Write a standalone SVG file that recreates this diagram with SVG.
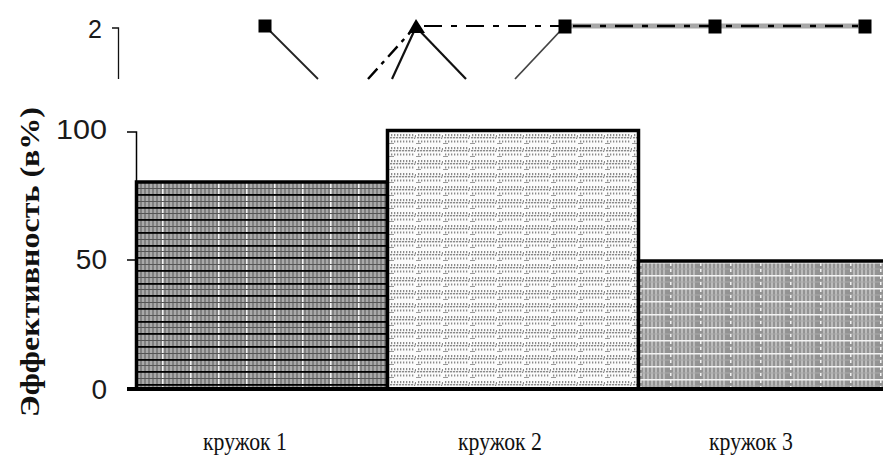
<svg xmlns="http://www.w3.org/2000/svg" width="883" height="459" viewBox="0 0 883 459">
  <style>
    .tick { font-family: "Liberation Sans", Arial, sans-serif; font-size: 28px; fill: #1a1a1a; text-anchor: end; }
    .cat { font-family: "Liberation Serif", "Times New Roman", serif; font-size: 26px; fill: #111; text-anchor: middle; }
    .ylab { font-family: "Liberation Serif", "Times New Roman", serif; font-size: 27px; font-weight: bold; fill: #111; text-anchor: middle; }
    .bar { stroke: #000; stroke-width: 3.5; }
    .ln { fill: none; stroke: #222; stroke-width: 1.8; }
    .dd { fill: none; stroke: #000; stroke-width: 2.4; stroke-dasharray: 18 9 6 9; }
    .mk { fill: #000; }
  </style>
  <defs>
    <pattern id="p1" patternUnits="userSpaceOnUse" x="136" y="183" width="28" height="38">
      <rect width="28" height="38" fill="#808080"/>
      <rect x="2" width="2" height="38" fill="#aaaaaa"/>
      <rect x="6" width="2" height="38" fill="#aaaaaa"/>
      <rect x="10" width="2" height="38" fill="#aaaaaa"/>
      <rect x="14" width="2" height="38" fill="#aaaaaa"/>
      <rect x="18" width="2" height="38" fill="#aaaaaa"/>
      <rect x="22" width="2" height="38" fill="#aaaaaa"/>
      <rect x="26" width="1.6" height="38" fill="#f4f4f4"/>
      <rect y="5" width="28" height="1" fill="#555"/>
      <rect y="11" width="28" height="1.8" fill="#000"/>
      <rect y="18" width="28" height="1" fill="#555"/>
      <rect y="24" width="28" height="1.8" fill="#000"/>
      <rect y="30" width="28" height="1" fill="#555"/>
      <rect y="36" width="28" height="1.8" fill="#000"/>
    </pattern>
    <pattern id="p2" patternUnits="userSpaceOnUse" x="389" y="132" width="27" height="13">
      <rect width="27" height="13" fill="#fbfbfb"/>
      <g fill="#8a8a8a">
        <rect x="2" y="2" width="1.3" height="2.2"/>
        <rect x="5" y="2" width="1.3" height="2.2"/>
        <rect x="8" y="2" width="1.3" height="2.2"/>
        <rect x="11" y="2" width="1.3" height="2.2"/>
        <rect x="14" y="2" width="1.3" height="2.2"/>
        <rect x="17" y="2" width="1.3" height="2.2"/>
        <rect x="20" y="2" width="1.3" height="2.2"/>
        <rect x="23" y="2" width="1.3" height="2.2"/>
        <rect x="1" y="5" width="2.2" height="1.4"/>
        <rect x="4" y="5" width="2.2" height="1.4"/>
        <rect x="7" y="5" width="2.2" height="1.4"/>
        <rect x="10" y="5" width="2.2" height="1.4"/>
        <rect x="13" y="5" width="2.2" height="1.4"/>
        <rect x="16" y="5" width="2.2" height="1.4"/>
        <rect x="19" y="5" width="2.2" height="1.4"/>
        <rect x="22" y="5" width="2.2" height="1.4"/>
        <rect x="2" y="8.5" width="1.3" height="2"/>
        <rect x="5" y="8.5" width="1.3" height="2"/>
        <rect x="8" y="8.5" width="1.3" height="2"/>
        <rect x="11" y="8.5" width="1.3" height="2"/>
        <rect x="14" y="8.5" width="1.3" height="2"/>
        <rect x="17" y="8.5" width="1.3" height="2"/>
        <rect x="20" y="8.5" width="1.3" height="2"/>
        <rect x="23" y="8.5" width="1.3" height="2"/>
      </g>
      <line x1="25.5" y1="7" x2="26.8" y2="3" stroke="#777" stroke-width="1"/>
      <line x1="0" y1="11.5" x2="5" y2="11.5" stroke="#999" stroke-width="1"/>
    </pattern>
    <pattern id="p3" patternUnits="userSpaceOnUse" x="640" y="262" width="30" height="13">
      <rect width="30" height="13" fill="#939393"/>
      <rect x="3" width="2" height="13" fill="#bbbbbb"/>
      <rect x="7" width="2" height="13" fill="#bbbbbb"/>
      <rect x="11" width="2" height="13" fill="#bbbbbb"/>
      <rect x="15" width="2" height="13" fill="#bbbbbb"/>
      <rect x="19" width="2" height="13" fill="#bbbbbb"/>
      <rect x="23" width="2" height="13" fill="#bbbbbb"/>
      <rect x="0" y="0" width="30" height="1.5" fill="#f3f3f3"/>
      <rect x="0" y="6.5" width="30" height="1" fill="#aaa"/>
      <rect x="0" y="1" width="1.5" height="3" fill="#f3f3f3"/>
      <rect x="0" y="7" width="1.5" height="3" fill="#f3f3f3"/>
    </pattern>
  </defs>

  <!-- top (partial) line chart -->
  <g id="top-axis">
    <text class="tick" x="102" y="38" style="font-size:25px">2</text>
    <polyline points="112,28 118.5,28 118.5,79" fill="none" stroke="#111" stroke-width="1.3"/>
  </g>
  <g id="connectors">
    <line class="ln" x1="265" y1="26" x2="318" y2="79"/>
    <line class="dd" x1="368" y1="79" x2="415" y2="27" style="stroke-dasharray: 14 6 4 6"/>
    <line class="ln" x1="392" y1="79" x2="416" y2="27" style="stroke:#111;stroke-width:2.2"/>
    <line class="ln" x1="416" y1="27" x2="466" y2="79" style="stroke:#111;stroke-width:2.2"/>
    <line class="ln" x1="515" y1="79" x2="564" y2="27" style="stroke:#444"/>
    <line x1="565" y1="26" x2="865" y2="26" stroke="#a8a8a8" stroke-width="5"/>
    <line class="dd" x1="424" y1="26" x2="565" y2="26" style="stroke-width:2"/>
    <line class="dd" x1="573" y1="26" x2="860" y2="26"/>
  </g>
  <g id="markers">
    <rect class="mk" x="258.5" y="19.5" width="13" height="13"/>
    <polygon class="mk" points="416,19 408,33 425,33"/>
    <rect class="mk" x="558.5" y="19.5" width="13" height="14"/>
    <rect class="mk" x="708.5" y="19.5" width="13" height="14"/>
    <rect class="mk" x="858.5" y="19.5" width="13" height="14"/>
  </g>

  <!-- bar chart axes -->
  <g id="axis">
    <polyline points="127,132 136.5,132 136.5,183" fill="none" stroke="#000" stroke-width="1.5"/>
    <line x1="127" y1="260" x2="136" y2="260" stroke="#000" stroke-width="1.5"/>
    <text class="tick" x="107" y="139" textLength="51" lengthAdjust="spacingAndGlyphs">100</text>
    <text class="tick" x="107" y="269">50</text>
    <text class="tick" x="107" y="399">0</text>
    <text class="ylab" transform="translate(39,262) rotate(-90)" textLength="310" lengthAdjust="spacingAndGlyphs">Эффективность (в%)</text>
  </g>

  <g id="bar1">
    <rect class="bar" x="136.5" y="182" width="251" height="207" fill="url(#p1)"/>
  </g>
  <g id="bar2">
    <rect class="bar" x="387.5" y="130.5" width="251" height="258.5" fill="url(#p2)"/>
  </g>
  <g id="bar3">
    <rect class="bar" x="638.5" y="261" width="250" height="128" fill="url(#p3)"/>
  </g>
  <line x1="127" y1="389" x2="883" y2="389" stroke="#000" stroke-width="4"/>

  <g id="labels">
    <text class="cat" x="245" y="450" textLength="84" lengthAdjust="spacingAndGlyphs">кружок 1</text>
    <text class="cat" x="500" y="450" textLength="84" lengthAdjust="spacingAndGlyphs">кружок 2</text>
    <text class="cat" x="751" y="450" textLength="84" lengthAdjust="spacingAndGlyphs">кружок 3</text>
  </g>
</svg>
